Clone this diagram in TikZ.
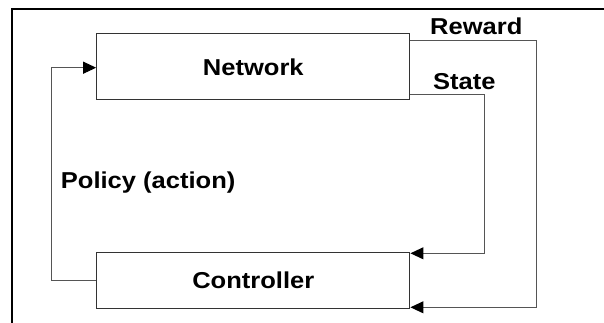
\documentclass[tikz,border=0pt]{standalone}
\usepackage{fontspec}
\setmainfont{Liberation Sans}[FakeStretch=1.11]
\usetikzlibrary{arrows.meta}
\definecolor{linegray}{HTML}{555555}
\definecolor{boxgray}{HTML}{333333}
\begin{document}
\begin{tikzpicture}[x=1pt,y=-1pt,
  box/.style={draw=boxgray,line width=1pt,minimum width=313.3pt,inner sep=0pt,
    text height=16.5pt,text depth=0pt,font=\fontsize{23}{27}\selectfont\bfseries},
  lab/.style={anchor=base west,inner sep=0pt,font=\fontsize{23}{27}\selectfont\bfseries},
  conn/.style={draw=linegray,line width=1pt,-{Triangle[length=13pt,width=12pt,color=black]}}]
\useasboundingbox (0,0) rectangle (604,323);
\draw[line width=2pt,line cap=rect] (604,9.5) -- (11.5,9.5) -- (11.5,324);
\node[box,minimum height=66pt] (net) at (253.3,67) {Network};
\node[box,minimum height=56pt] (ctl) at (253.3,280.3) {Controller};
\coordinate (rw) at (536.5,40.7);
\coordinate (rwb) at (536.5,307.3);
\coordinate (st) at (484,94.3);
\coordinate (stb) at (484,253.3);
\coordinate (po) at (51.7,280);
\coordinate (pot) at (51.7,67.7);
\draw[conn] (net.east |- rw) -- (rw) -- (rwb) -- (ctl.east |- rwb);
\draw[conn] (net.east |- st) -- (st) -- (stb) -- (ctl.east |- stb);
\draw[conn] (ctl.west |- po) -- (po) -- (pot) -- (net.west |- pot);
\node[lab] (lreward) at (430,35) {Reward};
\node[lab] (lstate) at (433,90) {State};
\node[lab] (lpolicy) at (60.7,188) {Policy (action)};
\end{tikzpicture}
\end{document}
